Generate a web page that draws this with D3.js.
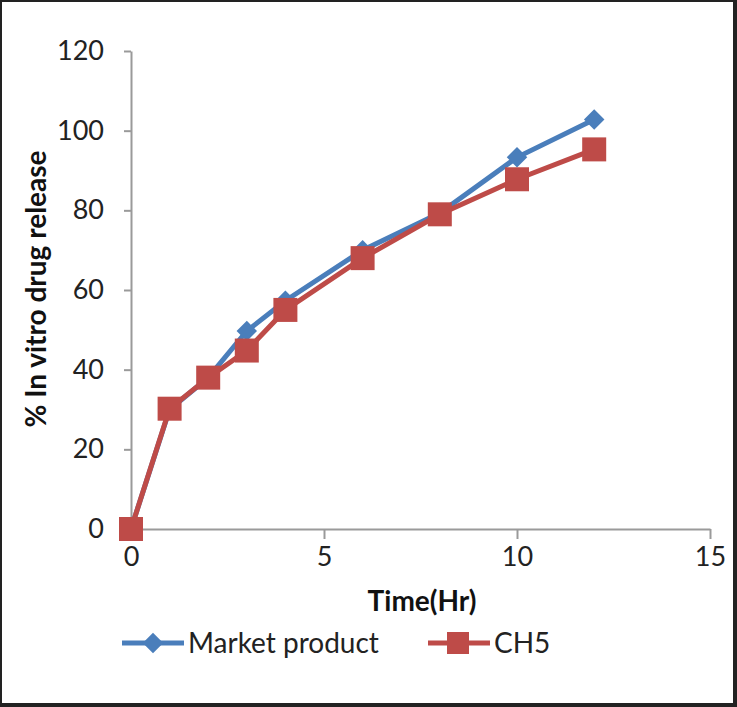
<!DOCTYPE html>
<html lang="en">
<head>
    <meta charset="UTF-8">
    <script src="https://cdnjs.cloudflare.com/ajax/libs/d3/7.8.5/d3.min.js"></script>
    <style>
        body { margin: 0; background: #fff; }
        svg { display: block; font-family: Lato, "Open Sans", sans-serif; }
        .domain { stroke: #9a9a9a; stroke-width: 2; }
        .tick line { stroke: #9a9a9a; stroke-width: 2; }
        .tick text { fill: #222; font-size: 27px; }
    </style>
</head>
<body>
    <svg id="chart" width="737" height="707"></svg>
    <script>
        const hours = [0, 1, 2, 3, 4, 6, 8, 10, 12];
        const marketProduct = [0, 30, 38, 49.7, 57.3, 70, 79.3, 93.3, 102.8];
        const ch5 = [0, 30.2, 38, 44.8, 55, 68, 79, 87.8, 95.3];
        const xTicks = [0, 5, 10, 15];
        const yTicks = [0, 20, 40, 60, 80, 100, 120];

        const svg = d3.select('#chart');
        const blue = '#4a7ebb', red = '#be4b48';

        // frame around the picture
        svg.append('path')
            .attr('d', 'M1,1 H734 V704 H1 Z')
            .attr('fill', 'none')
            .attr('stroke', '#222')
            .attr('stroke-width', 2);
        svg.append('rect').attr('x', 733).attr('y', 0).attr('width', 4).attr('height', 707).attr('fill', '#222');
        svg.append('rect').attr('x', 0).attr('y', 703).attr('width', 737).attr('height', 4).attr('fill', '#222');

        const x = d3.scaleLinear().domain([0, 15]).range([131, 710]);
        const y = d3.scaleLinear().domain([0, 120]).range([529, 51]);

        const xAxis = d3.axisBottom(x).tickValues(xTicks).tickSize(10).tickPadding(8).tickSizeOuter(0);
        const yAxis = d3.axisLeft(y).tickValues(yTicks).tickSize(7).tickPadding(20).tickSizeOuter(0);

        svg.append('g').attr('transform', `translate(0,${y(0)})`).call(xAxis);
        svg.append('g').attr('transform', `translate(${x(0)},0)`).call(yAxis);
        svg.selectAll('.tick text').attr('font-family', 'Lato, sans-serif');

        // axis titles
        svg.append('text')
            .attr('x', 422).attr('y', 611)
            .attr('text-anchor', 'middle')
            .attr('font-weight', 'bold')
            .attr('font-size', 28)
            .attr('fill', '#111')
            .text('Time(Hr)');

        svg.append('text')
            .attr('transform', 'translate(46,289) rotate(-90)')
            .attr('text-anchor', 'middle')
            .attr('font-weight', 'bold')
            .attr('font-size', 28)
            .attr('fill', '#111')
            .text('% In vitro drug release');

        const line = d3.line()
            .x(d => x(d[0]))
            .y(d => y(d[1]));

        const diamond = d3.symbol().type(d3.symbolSquare).size(210);

        function drawMarket(g, pts) {
            g.append('path')
                .attr('d', line(pts))
                .attr('fill', 'none')
                .attr('stroke', blue)
                .attr('stroke-width', 5);
            g.selectAll('path.pt')
                .data(pts)
                .join('path')
                .attr('class', 'pt')
                .attr('d', diamond)
                .attr('transform', d => `translate(${x(d[0])},${y(d[1])}) rotate(45)`)
                .attr('fill', blue);
        }

        function drawCH5(g, pts) {
            g.append('path')
                .attr('d', line(pts))
                .attr('fill', 'none')
                .attr('stroke', red)
                .attr('stroke-width', 5);
            g.selectAll('rect')
                .data(pts)
                .join('rect')
                .attr('x', d => x(d[0]) - 12)
                .attr('y', d => y(d[1]) - 12)
                .attr('width', 24).attr('height', 24)
                .attr('fill', red);
        }

        drawMarket(svg.append('g'), hours.map((h, i) => [h, marketProduct[i]]));
        drawCH5(svg.append('g'), hours.map((h, i) => [h, ch5[i]]));

        // legend
        const leg = svg.append('g');
        leg.append('line').attr('x1', 122).attr('x2', 184).attr('y1', 643).attr('y2', 643)
            .attr('stroke', blue).attr('stroke-width', 5);
        leg.append('path').attr('d', diamond)
            .attr('transform', 'translate(153,643) rotate(45)').attr('fill', blue);
        leg.append('text').attr('x', 188).attr('y', 653)
            .attr('font-size', 28).attr('fill', '#222').text('Market product');

        leg.append('line').attr('x1', 428).attr('x2', 490).attr('y1', 643).attr('y2', 643)
            .attr('stroke', red).attr('stroke-width', 5);
        leg.append('rect').attr('x', 447).attr('y', 632).attr('width', 22).attr('height', 22)
            .attr('fill', red);
        leg.append('text').attr('x', 494).attr('y', 653)
            .attr('font-size', 28).attr('fill', '#222').text('CH5');
    </script>
</body>
</html>
